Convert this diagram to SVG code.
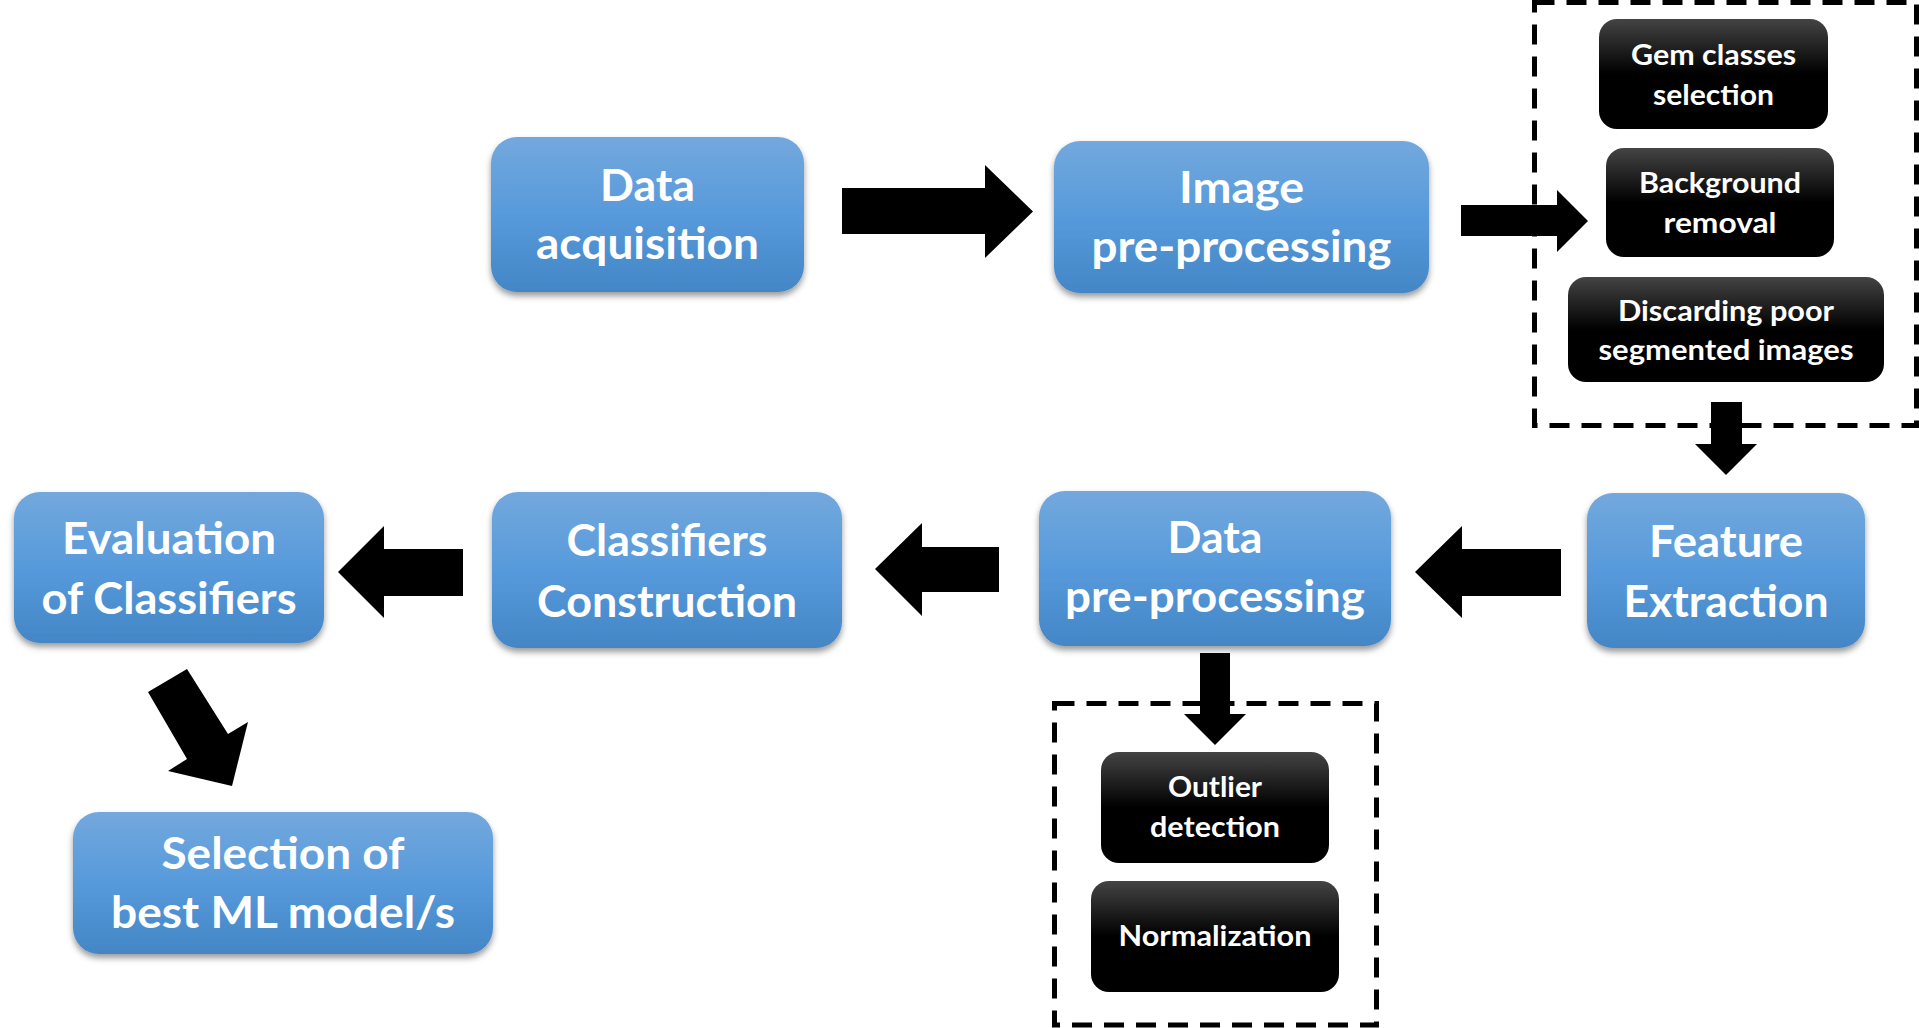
<svg xmlns="http://www.w3.org/2000/svg" width="1919" height="1028" viewBox="0 0 1919 1028">
<defs>
<linearGradient id="gBlue" x1="0" y1="0" x2="0" y2="1">
<stop offset="0" stop-color="#73A8DD"/>
<stop offset="0.5" stop-color="#579ADB"/>
<stop offset="1" stop-color="#4386C6"/>
</linearGradient>
<linearGradient id="gBlack" x1="0" y1="0" x2="0" y2="1">
<stop offset="0" stop-color="#444444"/>
<stop offset="0.5" stop-color="#000000"/>
<stop offset="1" stop-color="#000000"/>
</linearGradient>
<filter id="sh" x="-10%" y="-10%" width="120%" height="130%">
<feDropShadow dx="0" dy="4" stdDeviation="3" flood-color="#000" flood-opacity="0.4"/>
</filter>
</defs>
<style>
.blue{fill:url(#gBlue);filter:url(#sh)}
.black{fill:url(#gBlack)}
.bt{font-family:Lato,"Liberation Sans",sans-serif;font-weight:700;font-size:44px;fill:#fff;text-anchor:middle}
.st{font-family:Lato,"Liberation Sans",sans-serif;font-weight:700;font-size:28px;fill:#fff;text-anchor:middle}
.dash{fill:none;stroke:#000;stroke-width:5;stroke-dasharray:20 12}
.arr{fill:#000}
</style>
<rect width="1919" height="1028" fill="#fff"/>

<g id="group-image-preprocessing">
<path class="dash" d="M1534.5,2.5 H1916.5 V425.5 H1534.5 Z"/>
</g>
<g id="group-data-preprocessing">
<path class="dash" d="M1054.5,703.5 H1376.5 V1025 H1054.5 Z"/>
</g>

<g id="connectors">
<polygon class="arr" points="842,188 985,188 985,165 1033,211.5 985,258 985,234 842,234"/>
<polygon class="arr" points="1461,205 1557,205 1557,190 1588,221 1557,252 1557,236 1461,236"/>
<polygon class="arr" points="1711,402 1742,402 1742,444 1757,444 1726,475 1695,444 1711,444"/>
<polygon class="arr" points="1561,549 1462,549 1462,526 1415,572 1462,618 1462,596 1561,596"/>
<polygon class="arr" points="999,547 922,547 922,523 875,569 922,616 922,592 999,592"/>
<polygon class="arr" points="463,549 384,549 384,526 338,572 384,618 384,596 463,596"/>
<polygon class="arr" points="148,692 187,669 228,734 248,722 232,786 168,771 187,759"/>
<polygon class="arr" points="1200,653 1230,653 1230,714 1246,714 1215,745 1184,714 1200,714"/>
</g>

<g id="data-acquisition">
<rect class="blue" x="491" y="137" width="313" height="155" rx="26"/>
<text class="bt" x="647.5" y="201" textLength="95" lengthAdjust="spacingAndGlyphs">Data</text>
<text class="bt" x="647.5" y="259" textLength="223" lengthAdjust="spacingAndGlyphs">acquisition</text>
</g>
<g id="image-preprocessing">
<rect class="blue" x="1054" y="141" width="375" height="152" rx="26"/>
<text class="bt" x="1241.5" y="203" textLength="125" lengthAdjust="spacingAndGlyphs">Image</text>
<text class="bt" x="1241.5" y="262" textLength="300" lengthAdjust="spacingAndGlyphs">pre-processing</text>
</g>
<g id="gem-classes">
<rect class="black" x="1599" y="19" width="229" height="110" rx="18"/>
<text class="st" x="1713.5" y="65" textLength="165" lengthAdjust="spacingAndGlyphs">Gem classes</text>
<text class="st" x="1713.5" y="105" textLength="121" lengthAdjust="spacingAndGlyphs">selection</text>
</g>
<g id="background-removal">
<rect class="black" x="1606" y="148" width="228" height="109" rx="18"/>
<text class="st" x="1720" y="193" textLength="162" lengthAdjust="spacingAndGlyphs">Background</text>
<text class="st" x="1720" y="233" textLength="113" lengthAdjust="spacingAndGlyphs">removal</text>
</g>
<g id="discarding">
<rect class="black" x="1568" y="277" width="316" height="105" rx="18"/>
<text class="st" x="1726" y="321" textLength="216" lengthAdjust="spacingAndGlyphs">Discarding poor</text>
<text class="st" x="1726" y="360" textLength="255" lengthAdjust="spacingAndGlyphs">segmented images</text>
</g>
<g id="feature-extraction">
<rect class="blue" x="1587" y="493" width="278" height="155" rx="26"/>
<text class="bt" x="1726" y="557" textLength="154" lengthAdjust="spacingAndGlyphs">Feature</text>
<text class="bt" x="1726" y="617" textLength="205" lengthAdjust="spacingAndGlyphs">Extraction</text>
</g>
<g id="data-preprocessing">
<rect class="blue" x="1039" y="491" width="352" height="155" rx="26"/>
<text class="bt" x="1215" y="553" textLength="95" lengthAdjust="spacingAndGlyphs">Data</text>
<text class="bt" x="1215" y="612" textLength="300" lengthAdjust="spacingAndGlyphs">pre-processing</text>
</g>
<g id="outlier-detection">
<rect class="black" x="1101" y="752" width="228" height="111" rx="18"/>
<text class="st" x="1215" y="797" textLength="94" lengthAdjust="spacingAndGlyphs">Outlier</text>
<text class="st" x="1215" y="837" textLength="130" lengthAdjust="spacingAndGlyphs">detection</text>
</g>
<g id="normalization">
<rect class="black" x="1091" y="881" width="248" height="111" rx="18"/>
<text class="st" x="1215" y="946" textLength="193" lengthAdjust="spacingAndGlyphs">Normalization</text>
</g>
<g id="classifiers-construction">
<rect class="blue" x="492" y="492" width="350" height="156" rx="26"/>
<text class="bt" x="667" y="556" textLength="201" lengthAdjust="spacingAndGlyphs">Classifiers</text>
<text class="bt" x="667" y="617" textLength="260" lengthAdjust="spacingAndGlyphs">Construction</text>
</g>
<g id="evaluation">
<rect class="blue" x="14" y="492" width="310" height="151" rx="26"/>
<text class="bt" x="169" y="554" textLength="214" lengthAdjust="spacingAndGlyphs">Evaluation</text>
<text class="bt" x="169" y="614" textLength="255" lengthAdjust="spacingAndGlyphs">of Classifiers</text>
</g>
<g id="selection">
<rect class="blue" x="73" y="812" width="420" height="142" rx="26"/>
<text class="bt" x="283" y="869" textLength="243" lengthAdjust="spacingAndGlyphs">Selection of</text>
<text class="bt" x="283" y="928" textLength="344" lengthAdjust="spacingAndGlyphs">best ML model/s</text>
</g>
</svg>
